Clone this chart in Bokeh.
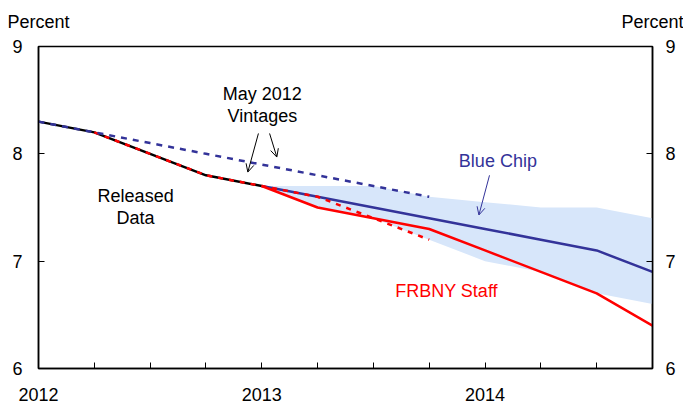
from bokeh.plotting import figure
from bokeh.models import (LinearAxis, FixedTicker, Range1d, Label, Arrow, OpenHead)
from bokeh.embed import file_html
from bokeh.resources import INLINE

# ---- data (quarters since 2012Q1) ----
q_released = [0, 1, 2, 3, 4]
released = [8.3, 8.2, 8.0, 7.8, 7.7]

q_frbny_may = [1, 2, 3, 4, 5, 6, 7]
frbny_may = [8.2, 8.0, 7.8, 7.7, 7.6, 7.4, 7.2]

q_bluechip_may = [0, 1, 2, 3, 4, 5, 6, 7]
bluechip_may = [8.3, 8.2, 8.1, 8.0, 7.9, 7.8, 7.7, 7.6]

q_fcst = [4, 5, 6, 7, 8, 9, 10, 11]
frbny = [7.7, 7.5, 7.4, 7.3, 7.1, 6.9, 6.7, 6.4]
bluechip = [7.7, 7.6, 7.5, 7.4, 7.3, 7.2, 7.1, 6.9]
band_upper = [7.7, 7.7, 7.7, 7.6, 7.55, 7.5, 7.5, 7.4]
band_lower = [7.7, 7.5, 7.4, 7.2, 7.0, 6.9, 6.7, 6.6]

x_ticks = list(range(12))
x_tick_labels = {0: "2012", 4: "2013", 8: "2014"}
y_ticks = [6, 7, 8, 9]
unit_label = "Percent"

FONT = "Liberation Sans"
RED = "#FF0000"
NAVY = "#333399"
BAND = "#D7E6FA"

p = figure(width=683, height=407, output_backend="svg", toolbar_location=None,
           x_range=Range1d(0, 11), y_range=Range1d(6, 9),
           min_border_left=38, min_border_right=31, min_border_top=46,
           min_border_bottom=39)
p.xgrid.visible = False
p.ygrid.visible = False
p.outline_line_color = "black"
p.outline_line_width = 1.5
p.background_fill_color = "white"
p.border_fill_color = "white"

def style_axis(ax):
    ax.axis_line_color = "black"
    ax.axis_line_width = 1.5
    ax.major_tick_in = 6
    ax.major_tick_out = 0
    ax.minor_tick_line_color = None
    ax.major_tick_line_color = "black"
    ax.major_label_text_font = FONT
    ax.major_label_text_font_size = "18px"
    ax.major_label_text_color = "black"

xa = p.xaxis[0]
xa.ticker = FixedTicker(ticks=x_ticks)
xa.major_label_overrides = {t: x_tick_labels.get(t, "") for t in x_ticks}
style_axis(xa)
xa.major_label_standoff = 19

ya = p.yaxis[0]
ya.ticker = FixedTicker(ticks=y_ticks)
style_axis(ya)
ya.major_label_standoff = 16

yr = LinearAxis(ticker=FixedTicker(ticks=y_ticks))
style_axis(yr)
yr.major_label_standoff = 13
p.add_layout(yr, "right")

# "Percent" unit labels above both value axes (drawn as labels of a bare top axis)
top_ticks = [0.001, 10.999]
xt = LinearAxis(ticker=FixedTicker(ticks=top_ticks))
style_axis(xt)
xt.axis_line_color = None
xt.major_tick_line_color = None
xt.major_tick_in = 0
xt.major_label_overrides = {t: unit_label for t in top_ticks}
xt.major_label_standoff = 15
p.add_layout(xt, "above")

# band and lines
p.varea(x=q_fcst, y1=band_lower, y2=band_upper, fill_color=BAND)
p.line(q_fcst, bluechip, line_color=NAVY, line_width=2.5)
p.line(q_fcst, frbny, line_color=RED, line_width=2.5)
p.line(q_released, released, line_color="black", line_width=2.5)
p.line(q_frbny_may, frbny_may, line_color=RED, line_width=2.5, line_dash="5 6")
p.line(q_bluechip_may, bluechip_may, line_color=NAVY, line_width=2.5, line_dash="6 6")

def add_text(x, y, text, color="black", align="center"):
    p.add_layout(Label(x=x, y=y, text=text, text_font=FONT, text_font_size="18px",
                       text_color=color, text_align=align, text_baseline="middle"))

add_text(4.01, 8.56, "May 2012")
add_text(4.01, 8.35, "Vintages")
add_text(1.74, 7.61, "Released")
add_text(1.74, 7.40, "Data")
add_text(8.23, 7.93, "Blue Chip", color=NAVY)
add_text(7.31, 6.72, "FRBNY Staff", color=RED)

def add_arrow(x0, y0, x1, y1, color="black"):
    p.add_layout(Arrow(x_start=x0, y_start=y0, x_end=x1, y_end=y1,
                       line_color=color, line_width=1,
                       end=OpenHead(size=8, line_color=color, line_width=1)))

add_arrow(3.94, 8.19, 3.75, 7.83)
add_arrow(4.14, 8.19, 4.27, 7.97)
add_arrow(8.08, 7.80, 7.89, 7.43, color=NAVY)

open("out.html", "w").write(file_html(p, INLINE))
